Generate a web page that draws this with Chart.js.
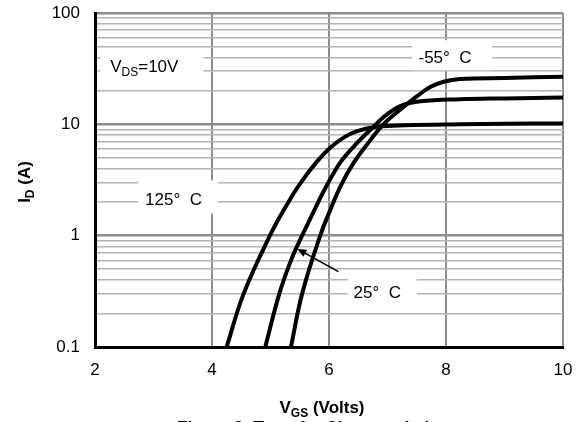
<!DOCTYPE html>
<html>
<head>
<meta charset="utf-8">
<script src="https://cdn.jsdelivr.net/npm/chart.js@4/dist/chart.umd.min.js"></script>
<style>
  html, body { margin: 0; padding: 0; background: #fff; }
  #wrap { width: 581px; height: 422px; }
</style>
</head>
<body>
<div id="wrap"><canvas id="c" width="581" height="422"></canvas></div>
<script>
// Transfer characteristics: drain current vs gate-source voltage, VDS = 10 V
const vgs125 = [4.25, 4.54, 4.99, 5.28, 5.5, 5.79, 6.02, 6.25, 6.48, 6.82, 7.3, 8.24, 9.0, 10.0];
const id125  = [0.1, 0.3, 1.0, 1.9, 2.9, 4.6, 6.15, 7.6, 8.7, 9.5, 9.8, 10.0, 10.1, 10.2];

const vgs25 = [4.91, 5.15, 5.35, 5.54, 5.75, 5.95, 6.2, 6.48, 6.76, 6.99, 7.25, 7.56, 8.24, 9.0, 10.0];
const id25  = [0.1, 0.3, 0.6, 1.0, 1.7, 2.75, 4.6, 6.8, 9.5, 12.3, 14.8, 16.1, 16.8, 17.1, 17.4];

const vgsM55 = [5.35, 5.54, 5.85, 6.05, 6.2, 6.42, 6.65, 6.93, 7.22, 7.5, 7.73, 7.96, 8.24, 9.0, 10.0];
const idM55  = [0.1, 0.3, 1.0, 1.85, 2.8, 4.5, 6.6, 10.0, 13.6, 17.8, 21.6, 24.1, 25.5, 26.1, 26.7];

const xTicks = [2, 4, 6, 8, 10];
const yDecades = [0.1, 1, 10, 100];

const toPoints = (xs, ys) => xs.map((x, i) => ({ x: x, y: ys[i] }));

const FONT = '"Liberation Sans", Arial, sans-serif';

// Label boxes (white backgrounds over the grid) and their texts, in data units
const labels = [
  { box: [2.09, 3.85, 26, 46],     x: 2.26, y: 29.5, main: 'V', sub: 'DS', rest: '=10V' },
  { box: [2.74, 4.10, 1.58, 3.13], x: 2.855, y: 1.90, main: '125\u00B0  C' },
  { box: [7.42, 8.79, 30.6, 57],   x: 7.53, y: 35.5, main: '-55\u00B0  C' },
  { box: [6.32, 7.50, 0.234, 0.418], x: 6.42, y: 0.274, main: '25\u00B0  C' }
];
const arrow = { from: [6.16, 0.476], to: [5.46, 0.76] };

const annotations = {
  id: 'annotations',
  beforeDatasetsDraw(chart) {
    const { ctx, scales: { x, y } } = chart;
    ctx.save();
    labels.forEach(l => {
      const x0 = x.getPixelForValue(l.box[0]), x1 = x.getPixelForValue(l.box[1]);
      const y0 = y.getPixelForValue(l.box[3]), y1 = y.getPixelForValue(l.box[2]);
      ctx.fillStyle = '#fff';
      ctx.fillRect(x0, y0, x1 - x0, y1 - y0);
      let px = x.getPixelForValue(l.x);
      const py = y.getPixelForValue(l.y);
      ctx.fillStyle = '#000';
      ctx.textBaseline = 'alphabetic';
      ctx.textAlign = 'left';
      ctx.font = '17px ' + FONT;
      ctx.fillText(l.main, px, py);
      px += ctx.measureText(l.main).width;
      if (l.sub) {
        ctx.font = '12px ' + FONT;
        ctx.fillText(l.sub, px, py + 4);
        px += ctx.measureText(l.sub).width;
        ctx.font = '17px ' + FONT;
        ctx.fillText(l.rest, px, py);
      }
    });
    ctx.restore();
  },
  afterDatasetsDraw(chart) {
    const { ctx, scales: { x, y } } = chart;
    const ax = x.getPixelForValue(arrow.from[0]), ay = y.getPixelForValue(arrow.from[1]);
    const bx = x.getPixelForValue(arrow.to[0]), by = y.getPixelForValue(arrow.to[1]);
    const ang = Math.atan2(by - ay, bx - ax);
    ctx.save();
    ctx.strokeStyle = '#000';
    ctx.fillStyle = '#000';
    ctx.lineWidth = 1.5;
    ctx.beginPath();
    ctx.moveTo(ax, ay);
    ctx.lineTo(bx - 6 * Math.cos(ang), by - 6 * Math.sin(ang));
    ctx.stroke();
    ctx.beginPath();
    ctx.moveTo(bx, by);
    ctx.lineTo(bx - 9 * Math.cos(ang) + 4 * Math.sin(ang), by - 9 * Math.sin(ang) - 4 * Math.cos(ang));
    ctx.lineTo(bx - 9 * Math.cos(ang) - 4 * Math.sin(ang), by - 9 * Math.sin(ang) + 4 * Math.cos(ang));
    ctx.closePath();
    ctx.fill();
    ctx.restore();
  },
  afterDraw(chart) {
    const { ctx } = chart;
    ctx.save();
    ctx.fillStyle = '#000';
    ctx.textBaseline = 'alphabetic';

    // y axis title: I_D (A), rotated
    ctx.translate(30, 182);
    ctx.rotate(-Math.PI / 2);
    const bold = 'bold 17px ' + FONT, boldSub = 'bold 12px ' + FONT;
    ctx.font = bold;
    const wI = ctx.measureText('I').width, wR = ctx.measureText(' (A)').width;
    ctx.font = boldSub;
    const wD = ctx.measureText('D').width;
    let sx = -(wI + wD + wR) / 2;
    ctx.font = bold; ctx.fillText('I', sx, 0); sx += wI;
    ctx.font = boldSub; ctx.fillText('D', sx, 4); sx += wD;
    ctx.font = bold; ctx.fillText(' (A)', sx, 0);
    ctx.setTransform(1, 0, 0, 1, 0, 0);

    // x axis title: V_GS (Volts)
    ctx.font = bold;
    const wV = ctx.measureText('V').width, wVolts = ctx.measureText(' (Volts)').width;
    ctx.font = boldSub;
    const wGS = ctx.measureText('GS').width;
    let tx = 322 - (wV + wGS + wVolts) / 2;
    const ty = 413;
    ctx.font = bold; ctx.fillText('V', tx, ty); tx += wV;
    ctx.font = boldSub; ctx.fillText('GS', tx, ty + 4); tx += wGS;
    ctx.font = bold; ctx.fillText(' (Volts)', tx, ty);

    // figure caption
    ctx.font = bold;
    ctx.fillText('Figure 3: Transfer Characteristics', 177, 433);
    ctx.restore();
  }
};

const lineStyle = {
  borderColor: '#000',
  borderWidth: 4,
  pointRadius: 0,
  fill: false,
  tension: 0.4
};

const noScalePadding = s => { s.paddingTop = 0; s.paddingBottom = 0; s.paddingLeft = 0; s.paddingRight = 0; };

new Chart(document.getElementById('c'), {
  type: 'line',
  data: {
    datasets: [
      Object.assign({ label: '125\u00B0 C', data: toPoints(vgs125, id125) }, lineStyle),
      Object.assign({ label: '25\u00B0 C', data: toPoints(vgs25, id25) }, lineStyle),
      Object.assign({ label: '-55\u00B0 C', data: toPoints(vgsM55, idM55) }, lineStyle)
    ]
  },
  options: {
    responsive: false,
    animation: false,
    devicePixelRatio: 1,
    layout: { padding: { top: 13, right: 18, left: 0, bottom: 0 } },
    plugins: { legend: { display: false }, tooltip: { enabled: false } },
    scales: {
      x: {
        type: 'linear',
        min: 2, max: 10,
        afterBuildTicks: s => { s.ticks = xTicks.map(v => ({ value: v })); },
        afterFit: s => { s.height = 75; noScalePadding(s); },
        grid: { color: '#8c8c8c', lineWidth: 2, drawTicks: false },
        border: { color: '#000', width: 3 },
        ticks: {
          color: '#000', padding: 13,
          maxRotation: 0,
          font: { family: FONT, size: 17 },
          callback: v => String(v)
        }
      },
      y: {
        type: 'logarithmic',
        min: 0.1, max: 100,
        afterBuildTicks: s => {
          const t = [];
          yDecades.forEach((d, i) => {
            if (i === yDecades.length - 1) { t.push({ value: d, major: true }); return; }
            for (let m = 1; m <= 9; m++) t.push({ value: +(d * m).toPrecision(3), major: m === 1 });
          });
          s.ticks = t;
        },
        afterFit: s => { s.width = 95; noScalePadding(s); },
        grid: {
          drawTicks: false,
          color: c => (yDecades.includes(c.tick.value) ? '#8c8c8c' : '#b4b4b4'),
          lineWidth: c => (yDecades.includes(c.tick.value) ? 2.5 : 1.6)
        },
        border: { color: '#000', width: 3 },
        ticks: {
          color: '#000', padding: 15,
          autoSkip: false,
          font: { family: FONT, size: 17 },
          callback: v => (yDecades.includes(v) ? String(v) : '')
        }
      }
    }
  },
  plugins: [annotations]
});
</script>
</body>
</html>
